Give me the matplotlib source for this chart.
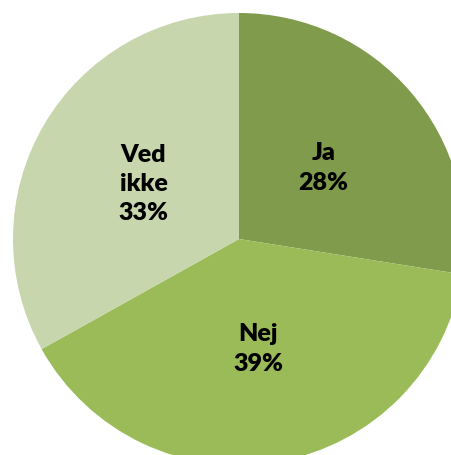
import matplotlib
matplotlib.use("Agg")
import matplotlib.pyplot as plt

labels = ["Ja", "Nej", "Ved\nikke"]
values = [27.5, 39.4, 33.1]
pct_labels = ["28%", "39%", "33%"]
colors = ["#7F9B4B", "#9BBB59", "#C7D6AD"]

fig = plt.figure(figsize=(4.52, 4.56), dpi=100)
ax = fig.add_axes([0, 0, 1, 1])

texts_in = [f"{l}\n{p}" for l, p in zip(labels, pct_labels)]
wedges, texts = ax.pie(
    values,
    labels=texts_in,
    colors=colors,
    startangle=90,
    counterclock=False,
    center=(239, 216),
    radius=226,
    labeldistance=0.49,
    frame=True,
)
for t in texts:
    t.set_ha("center")
    t.set_va("center")
    t.set_fontsize(18)
    t.set_fontweight("heavy")
    t.set_family("Lato")
    t.set_linespacing(1.4)

ax.set_xlim(0, 452)
ax.set_ylim(0, 456)
ax.set_aspect("equal")
ax.axis("off")

fig.savefig("out.png", dpi=100)
